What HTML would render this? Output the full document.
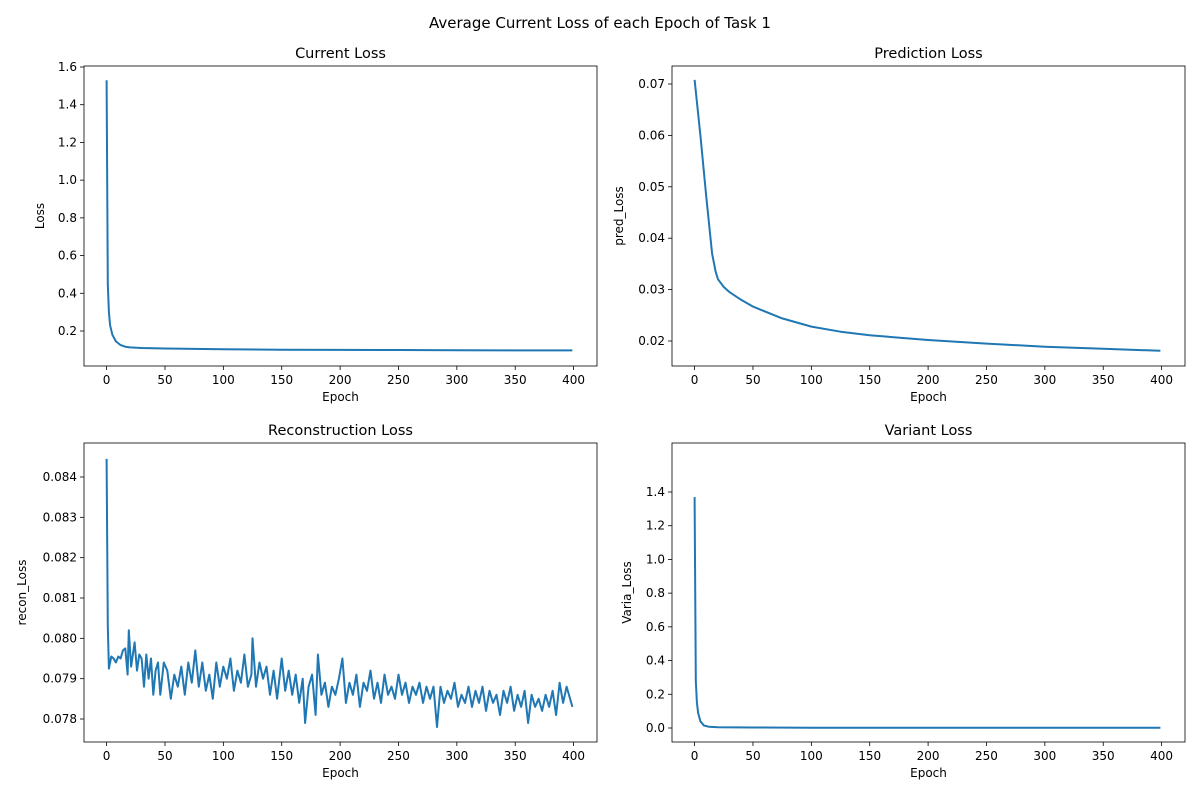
<!DOCTYPE html>
<html><head><meta charset="utf-8"><style>
body{margin:0;background:#fff;font-family:"Liberation Sans","DejaVu Sans",sans-serif}
svg text{font-family:"DejaVu Sans","Liberation Sans",sans-serif;fill:#000}
</style></head><body>
<svg id="c" width="1200" height="800">
<text x="600" y="28" font-size="15" text-anchor="middle">Average Current Loss of each Epoch of Task 1</text>
</svg>
<script>
const xTicks=[0,50,100,150,200,250,300,350,400];
const curEpochs=[0,1,2,3,5,8,12,16,20,30,50,100,150,200,250,300,350,399];
const curVals=[1.53,0.45,0.30,0.23,0.18,0.145,0.125,0.117,0.113,0.110,0.107,0.103,0.101,0.100,0.099,0.098,0.097,0.097];
const curTicks=[0.2,0.4,0.6,0.8,1.0,1.2,1.4,1.6];
const predEpochs=[0,5,10,15,18,20,25,30,40,50,75,100,125,150,200,250,300,350,399];
const predVals=[0.0708,0.060,0.048,0.037,0.0335,0.032,0.0305,0.0295,0.028,0.0267,0.0244,0.0228,0.0218,0.0211,0.0202,0.0195,0.0189,0.0185,0.0181];
const predTicks=[0.02,0.03,0.04,0.05,0.06,0.07];
const varEpochs=[0,1,2,3,5,8,12,20,50,100,200,300,399];
const varVals=[1.37,0.28,0.15,0.09,0.04,0.015,0.008,0.005,0.003,0.002,0.0015,0.001,0.001];
const varTicks=[0.0,0.2,0.4,0.6,0.8,1.0,1.2,1.4];
const recEpochs=[0,1,2,4,6,8,10,12,14,16,18,19,21,24,26,28,30,32,34,36,38,40,42,44,46,49,52,55,58,61,64,67,70,73,76,79,82,85,88,91,94,97,100,103,106,109,112,115,118,121,124,125,128,131,134,137,140,143,146,150,153,156,159,162,165,168,170,173,176,179,181,184,187,190,193,196,199,202,205,208,211,214,217,220,223,226,229,232,235,238,241,244,247,250,253,256,259,262,265,268,271,274,277,280,283,286,289,292,295,298,301,304,307,310,313,316,319,322,325,328,331,334,337,340,343,346,349,352,355,358,361,364,367,370,373,376,379,382,385,388,391,394,397,399];
const recVals=[.08445,.0803,.07925,.07955,.0795,.0794,.07955,.0795,.0797,.07975,.0791,.0802,.0793,.0799,.0792,.0796,.0795,.0788,.0796,.0790,.0795,.0786,.0792,.0794,.0786,.0794,.0792,.0785,.0791,.0788,.0793,.0786,.0794,.0789,.0797,.0788,.0794,.0787,.0791,.0785,.0794,.0788,.0793,.0790,.0795,.0787,.0792,.0789,.0796,.0788,.0791,.0800,.0788,.0794,.0790,.0793,.0786,.0792,.0785,.0795,.0787,.0792,.0786,.0791,.0784,.0790,.0779,.0788,.0791,.0781,.0796,.0786,.0789,.0783,.0788,.0786,.0790,.0795,.0784,.0789,.0786,.0791,.0783,.0789,.0787,.0792,.0785,.0789,.0784,.0791,.0786,.0788,.0785,.0791,.0786,.0789,.0784,.0788,.0786,.0789,.0784,.0788,.0785,.0788,.0778,.0788,.0784,.0787,.0785,.0789,.0783,.0786,.0784,.0788,.0783,.0787,.0784,.0788,.0782,.0787,.0784,.0786,.0781,.0787,.0784,.0788,.0782,.0786,.0783,.0787,.0779,.0786,.0783,.0785,.0782,.0786,.0783,.0787,.0781,.0789,.0784,.0788,.0785,.0783];
const recTicks=[0.078,0.079,0.080,0.081,0.082,0.083,0.084];

const svg=document.getElementById('c');
const NS='http://www.w3.org/2000/svg';
function mk(tag,attrs){const e=document.createElementNS(NS,tag);for(const k in attrs)e.setAttribute(k,attrs[k]);svg.appendChild(e);return e;}
function panel(o){
  const {L,R,T,B,title,ylabel,epochs,vals,yticks,y0v,y0p,y1v,y1p,dec,key}=o;
  const xs=v=>L+22.6+(v)*(467/400);
  const ys=v=>y0p+(v-y0v)*(y1p-y0p)/(y1v-y0v);
  let t=mk('text',{x:(L+R)/2,y:T-8,'font-size':14.5,'text-anchor':'middle'});t.textContent=title;
  
  
  xTicks.forEach(v=>{const x=xs(v);
    const l=mk('line',{x1:x,x2:x,y1:B,y2:B+4,stroke:'#000','stroke-width':0.8});
    
    
    const tx=mk('text',{x:x,y:B+18,'font-size':12,'text-anchor':'middle'});tx.textContent=v;
    
    });
  yticks.forEach(v=>{const y=ys(v);
    const l=mk('line',{x1:L-4,x2:L,y1:y,y2:y,stroke:'#000','stroke-width':0.8});
    
    
    const tx=mk('text',{x:L-7,y:y+4,'font-size':12,'text-anchor':'end'});tx.textContent=v.toFixed(dec);
    
    });
  const xl=mk('text',{x:(L+R)/2,y:B+35,'font-size':12,'text-anchor':'middle'});xl.textContent='Epoch';
  
  
  const yl=mk('text',{x:0,y:0,'font-size':12,'text-anchor':'middle',transform:`translate(${o.ylx},${(T+B)/2}) rotate(-90)`});yl.textContent=ylabel;
  
  
  const d=epochs.map((e,i)=>(i?'L':'M')+xs(e).toFixed(1)+','+ys(vals[i]).toFixed(1)).join('');
  const p=mk('path',{d:d,fill:'none',stroke:'#1f77b4','stroke-width':2,'stroke-linejoin':'round'});
  
  
  const r=mk('rect',{x:L,y:T,width:R-L,height:B-T,fill:'none',stroke:'#000','stroke-width':0.8});
  
  
}
panel({key:'current-loss',L:84,R:597,T:66,B:366,title:'Current Loss',ylabel:'Loss',epochs:curEpochs,vals:curVals,yticks:curTicks,y0v:0.2,y0p:331,y1v:1.6,y1p:67,dec:1,ylx:44});
panel({key:'prediction-loss',L:672,R:1185,T:66,B:366,title:'Prediction Loss',ylabel:'pred_Loss',epochs:predEpochs,vals:predVals,yticks:predTicks,y0v:0.02,y0p:341,y1v:0.07,y1p:84,dec:2,ylx:623});
panel({key:'reconstruction-loss',L:84,R:597,T:443,B:742,title:'Reconstruction Loss',ylabel:'recon_Loss',epochs:recEpochs,vals:recVals,yticks:recTicks,y0v:0.078,y0p:719,y1v:0.084,y1p:477,dec:3,ylx:26});
panel({key:'variant-loss',L:672,R:1185,T:443,B:742,title:'Variant Loss',ylabel:'Varia_Loss',epochs:varEpochs,vals:varVals,yticks:varTicks,y0v:0,y0p:728,y1v:1.4,y1p:492,dec:1,ylx:631});
</script>
</body></html>
